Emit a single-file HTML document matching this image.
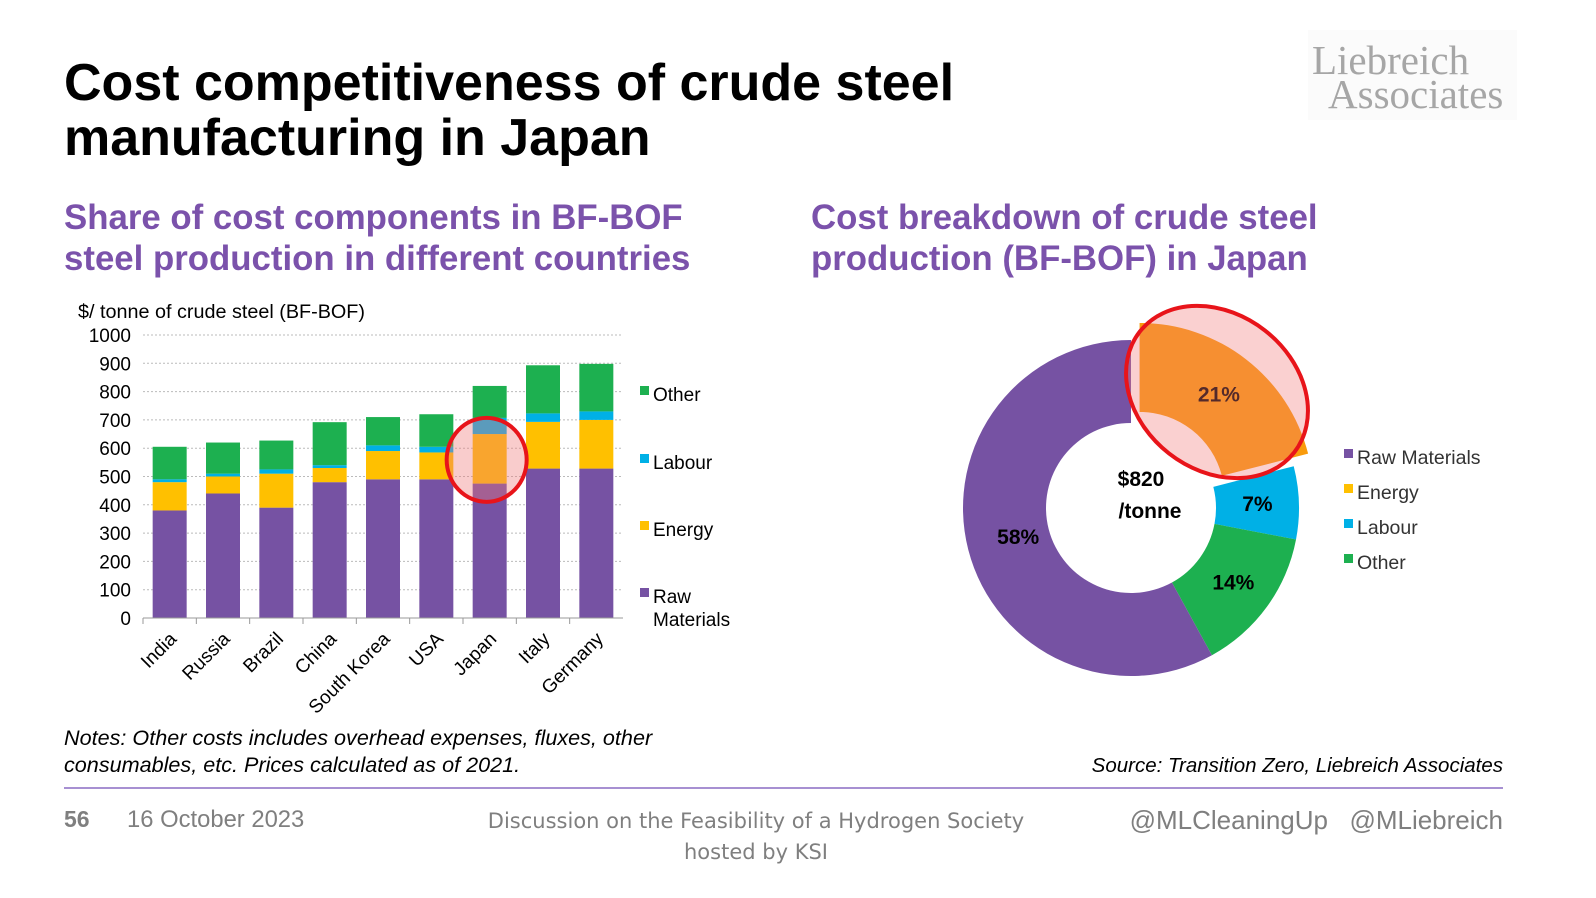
<!DOCTYPE html>
<html><head><meta charset="utf-8"><style>
html,body{margin:0;padding:0;background:#fff;}
body{width:1596px;height:898px;overflow:hidden;position:relative;font-family:"Liberation Sans",sans-serif;}
svg{position:absolute;left:0;top:0;}
</style></head><body>
<svg id="s" width="1596" height="898" viewBox="0 0 1596 898">
<text x="64" y="100" font-size="52" font-weight="bold" fill="#000">Cost competitiveness of crude steel</text>
<text x="64" y="155" font-size="52" font-weight="bold" fill="#000">manufacturing in Japan</text>
<rect x="1308" y="30" width="209" height="90" fill="#fbfbfb"/>
<text x="1312" y="74" font-family="Liberation Serif,serif" font-size="41" fill="#a6a6a6">Liebreich</text>
<text x="1328" y="108" font-family="Liberation Serif,serif" font-size="41" fill="#a6a6a6">Associates</text>
<text x="64" y="229" font-size="34.8" font-weight="bold" fill="#7b52ab">Share of cost components in BF-BOF</text>
<text x="64" y="270" font-size="34.8" font-weight="bold" fill="#7b52ab">steel production in different countries</text>
<text x="811" y="229" font-size="34.8" font-weight="bold" fill="#7b52ab">Cost breakdown of crude steel</text>
<text x="811" y="270" font-size="34.8" font-weight="bold" fill="#7b52ab">production (BF-BOF) in Japan</text>
<text x="78" y="318" font-size="19.8" fill="#000">$/ tonne of crude steel (BF-BOF)</text>
<g id="bars"></g>
<g id="donut"></g>
<text x="64" y="745" font-size="21.6" font-style="italic" fill="#000">Notes: Other costs includes overhead expenses, fluxes, other</text>
<text x="64" y="772" font-size="21.6" font-style="italic" fill="#000">consumables, etc. Prices calculated as of 2021.</text>
<text x="1503" y="772" font-size="20.5" font-style="italic" fill="#000" text-anchor="end">Source: Transition Zero, Liebreich Associates</text>
<line x1="64" y1="788" x2="1503" y2="788" stroke="#8a6cc4" stroke-width="1.5"/>
<text x="64" y="827" font-size="23" font-weight="bold" fill="#7f7f7f">56</text>
<text x="127" y="827" font-size="23.8" fill="#7f7f7f">16 October 2023</text>
<text x="756" y="828" fill="#7f7f7f" text-anchor="middle" font-family="DejaVu Sans,sans-serif" style="font-size:21px">Discussion on the Feasibility of a Hydrogen Society</text>
<text x="756" y="859" font-size="21" fill="#7f7f7f" text-anchor="middle" font-family="DejaVu Sans,sans-serif">hosted by KSI</text>
<text x="1328" y="829" font-size="26" fill="#7f7f7f" text-anchor="end">@MLCleaningUp</text>
<text x="1503" y="829" font-size="26" fill="#7f7f7f" text-anchor="end">@MLiebreich</text>
</svg>
<script>
const countries=["India","Russia","Brazil","China","South Korea","USA","Japan","Italy","Germany"];
const rawMaterials=[380,440,390,480,490,490,475,528,528];
const energy=[100,60,120,50,100,95,175,165,172];
const labour=[10,10,15,10,20,20,57,30,30];
const other=[115,110,102,152,100,115,113,170,168];
const yTicks=[0,100,200,300,400,500,600,700,800,900,1000];
const seriesNames=["Raw Materials","Energy","Labour","Other"];
const seriesColors=["#7652a3","#ffc000","#00b0e6","#1db050"];
const donutValues=[58,21,7,14];
const donutLabels=["58%","21%","7%","14%"];
const donutTotal="$820";

const NS="http://www.w3.org/2000/svg";
function mk(tag,attrs,parent){const e=document.createElementNS(NS,tag);for(const k in attrs)e.setAttribute(k,attrs[k]);parent.appendChild(e);return e;}
const bars=document.getElementById('bars');
const x0=143,x1=623,yBase=618,yTop=335;
const yS=v=>yBase-(v/1000)*(yBase-yTop);
const band=(x1-x0)/countries.length;
const xC=i=>x0+band*(i+0.5);
yTicks.forEach(t=>{
  if(t>0){const gl=mk('line',{x1:x0,x2:x1,y1:yS(t),y2:yS(t),stroke:'#bbb','stroke-dasharray':'2,2','stroke-width':1},bars);
  
  }
  const tl=mk('text',{x:131,y:yS(t)+7,'font-size':19,'text-anchor':'end',fill:'#000'},bars);tl.textContent=t;
  
  
});
const series=[rawMaterials,energy,labour,other];
countries.forEach((c,i)=>{
  let acc=0;
  series.forEach((s,k)=>{
    const r=mk('rect',{x:xC(i)-17,y:yS(acc+s[i]),width:34,height:yS(acc)-yS(acc+s[i]),fill:seriesColors[k]},bars);
    
    
    acc+=s[i];
  });
  const tk=mk('line',{x1:x0+band*i,x2:x0+band*i,y1:yBase,y2:yBase+6,stroke:'#999'},bars);
  
  
  const lb=mk('text',{x:xC(i)+8,y:yBase+22,'font-size':19,'text-anchor':'end',transform:`rotate(-45 ${xC(i)+8} ${yBase+22})`},bars);
  lb.textContent=c;
  
  
});
const ax=mk('line',{x1:x0,x2:x1,y1:yBase,y2:yBase,stroke:'#999'},bars);


const ji=countries.indexOf("Japan");
const hc=mk('ellipse',{cx:xC(ji)-3,cy:yS(rawMaterials[ji]+energy[ji]/2)+1,rx:40,ry:42,fill:'rgba(240,120,120,0.38)',stroke:'#e8141a','stroke-width':4},bars);


const legY=[[395],[463],[530],[597,620]];
[3,2,1,0].forEach((k,j)=>{
  const ys=legY[j];
  const sq=mk('rect',{x:640,y:ys[0]-9,width:9,height:9,fill:seriesColors[k]},bars);
  
  
  const words=k===0?["Raw","Materials"]:[seriesNames[k]];
  words.forEach((w,n)=>{const t=mk('text',{x:653,y:ys[n]+6,'font-size':19},bars);t.textContent=w;
  
  });
});

// donut
const dn=document.getElementById('donut');
const cx=1131,cy=508,R=168,r=85;
const order=[1,2,3,0];
const colors=[seriesColors[0],"#f99b0c",seriesColors[2],seriesColors[3]];
const tot=donutValues.reduce((a,b)=>a+b,0);
function pt(a,rad,ox,oy){return [cx+ox+rad*Math.sin(a),cy+oy-rad*Math.cos(a)];}
let a0=0;
order.forEach(k=>{
  const a1=a0+donutValues[k]/tot*2*Math.PI;
  const mid=(a0+a1)/2;
  const ex=k===1?14:0;const Ro=k===1?R+6:R;
  const ox=ex*Math.sin(mid),oy=-ex*Math.cos(mid);
  const p1=pt(a0,Ro,ox,oy),p2=pt(a1,Ro,ox,oy),p3=pt(a1,r,ox,oy),p4=pt(a0,r,ox,oy);
  const lg=(a1-a0)>Math.PI?1:0;
  const d=`M${p1}A${Ro},${Ro} 0 ${lg} 1 ${p2}L${p3}A${r},${r} 0 ${lg} 0 ${p4}Z`;
  const sl=mk('path',{d:d,fill:colors[k]},dn);
  
  
  const lr=(Ro+r)/2+(k===0?-10:0);const lp=pt(mid,lr,ox,oy);
  const t=mk('text',{x:lp[0],y:lp[1]+7,'font-size':21,'font-weight':'bold','text-anchor':'middle',fill:'#000'},dn);
  t.textContent=donutLabels[k];
  
  
  a0=a1;
});
const he=mk('ellipse',{cx:1217,cy:392,rx:98,ry:78,transform:'rotate(38 1217 392)',fill:'rgba(240,120,120,0.35)',stroke:'#e8141a','stroke-width':4},dn);


const c1=mk('text',{x:1141,y:486,'font-size':21,'font-weight':'bold','text-anchor':'middle'},dn);c1.textContent=donutTotal;


const c2=mk('text',{x:1150,y:518,'font-size':21,'font-weight':'bold','text-anchor':'middle'},dn);c2.textContent="/tonne";


const dl=[[0,457],[1,492],[2,527],[3,562]];
dl.forEach(([k,y])=>{
  const sq=mk('rect',{x:1344,y:y-8,width:9,height:9,fill:k===1?seriesColors[1]:colors[k]},dn);
  
  
  const t=mk('text',{x:1357,y:y+7,'font-size':19.5,fill:'#333'},dn);t.textContent=seriesNames[k];
  
  
});
</script>
</body></html>
